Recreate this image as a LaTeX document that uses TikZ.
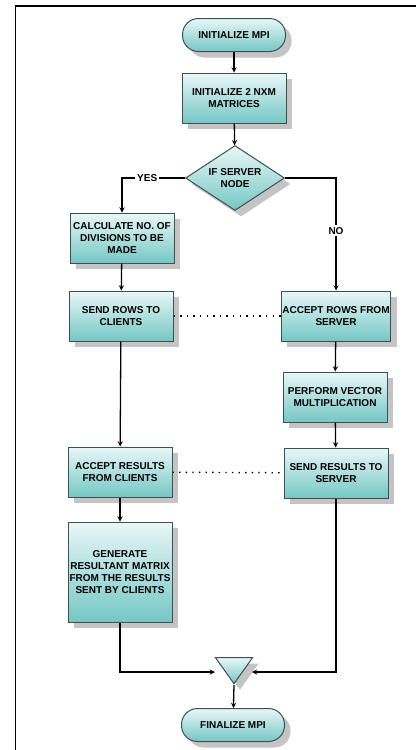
\documentclass[tikz,border=0pt]{standalone}
\usepackage{fontspec}
\setmainfont{Liberation Sans}
\usetikzlibrary{positioning,arrows,shapes,shadows}
\definecolor{boxtop}{HTML}{EAF7F7}
\definecolor{boxbot}{HTML}{74C7C5}
\definecolor{boxline}{HTML}{3A5252}
\definecolor{shadowgray}{HTML}{C4C4C4}
\tikzset{
base/.style={draw=boxline, line width=1pt, top color=boxtop, bottom color=boxbot,
    drop shadow={shadow xshift=6pt, shadow yshift=-6pt, fill=shadowgray, opacity=1},
    font=\fontsize{10}{12.3}\selectfont\bfseries, align=center, inner sep=1pt},
term/.style={base, rectangle, rounded corners=16pt, minimum width=103pt, minimum height=33pt},
proc/.style={base, rectangle, minimum width=104pt, minimum height=50pt},
dec/.style={base, diamond, aspect=1.5, minimum width=99pt, minimum height=65pt},
merge/.style={base, isosceles triangle, isosceles triangle stretches,
    shape border rotate=270, minimum width=37pt, minimum height=26pt, inner sep=0pt},
lbl/.style={fill=white, font=\fontsize{10}{12}\selectfont\bfseries, inner sep=2pt},
link/.style={line width=1.4pt, dash pattern=on 1.4pt off 5.2pt}
}
\begin{document}
\begin{tikzpicture}[>=stealth,x=1pt,y=-1pt,line width=1.3pt]
\useasboundingbox (0,0) rectangle (416,750);
\draw (15.5,750) -- (15.5,6) -- (416,6);

\node[term] (init) at (234,35) {INITIALIZE MPI};
\node[proc] (mat) at (234,98) {INITIALIZE 2 NXM\\MATRICES};
\node[dec] (srv) at (235,178) {IF SERVER\\NODE};
\node[proc] (calc) at (122,238) {CALCULATE NO. OF\\DIVISIONS TO BE\\MADE};
\node[proc] (sendrows) at (121,316) {SEND ROWS TO\\CLIENTS};
\node[proc] (acceptrows) at (336,316) {ACCEPT ROWS FROM\\SERVER};
\node[proc] (mult) at (335,397) {PERFORM VECTOR\\MULTIPLICATION};
\node[proc] (sendres) at (336,473) {SEND RESULTS TO\\SERVER};
\node[proc] (acceptres) at (120,472) {ACCEPT RESULTS\\FROM CLIENTS};
\node[proc,minimum height=100pt] (gen) at (120,572) {GENERATE\\RESULTANT MATRIX\\FROM THE RESULTS\\SENT BY CLIENTS};
\node[merge,anchor=apex] (join) at (234,685) {};
\node[term] (fin) at (233,725) {FINALIZE MPI};
\coordinate (joinL) at (215,672);
\coordinate (joinR) at (252,672);

\draw[->] (init) -- (mat);
\draw[->] (mat) -- (srv);
\draw[->] (srv.west) -| node[lbl,pos=0.3] {YES} (calc.north);
\draw[->] (srv.east) -| node[lbl,pos=0.735] {NO} (acceptrows.north);
\draw[->] (calc) -- (sendrows);
\draw[->] (sendrows) -- (acceptres);
\draw[->] (acceptrows) -- (mult);
\draw[->] (mult) -- (sendres);
\draw[->] (acceptres) -- (gen);
\draw[link] (sendrows) -- (acceptrows);
\draw[link] (acceptres) -- (sendres);
\draw[->] (gen.south) |- (joinL);
\draw[->] (sendres.south) |- (joinR);
\draw[->] (join.apex) -- (fin);
\end{tikzpicture}
\end{document}
